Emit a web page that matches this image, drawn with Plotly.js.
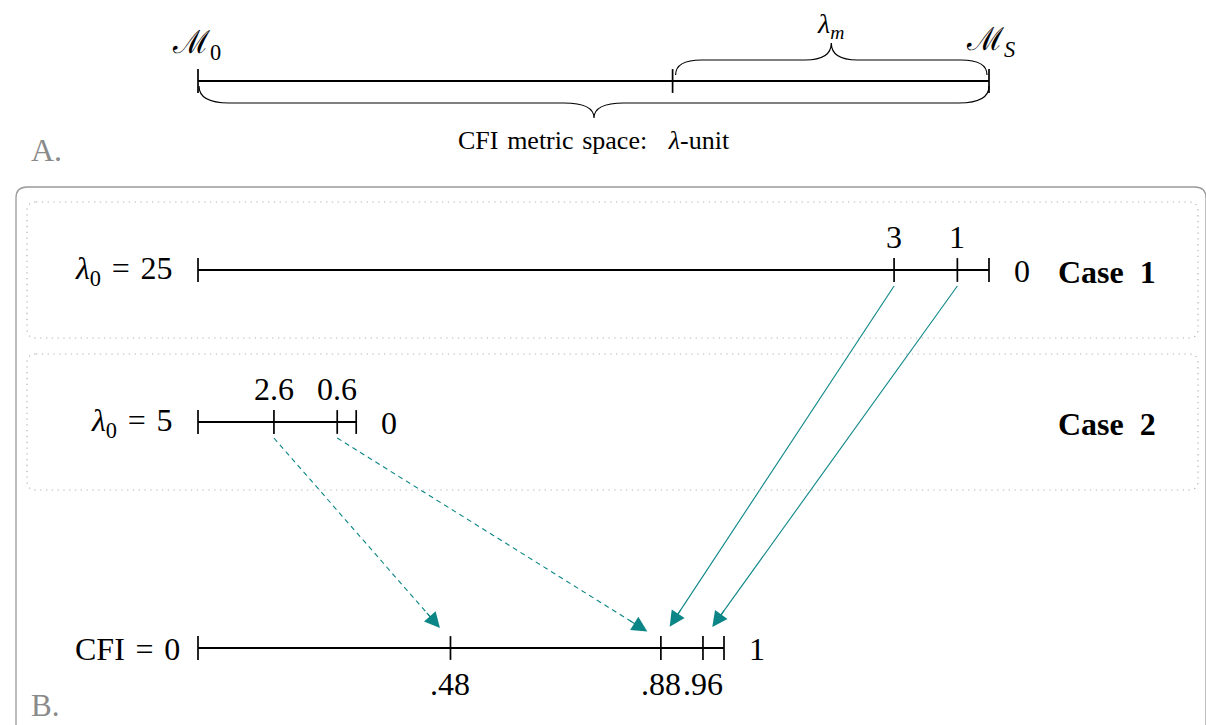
<!DOCTYPE html>
<html>
<head>
<meta charset="utf-8">
<script src="https://cdn.plot.ly/plotly-3.0.1.min.js"></script>
<style>html,body{margin:0;padding:0;background:#fff;}</style>
</head>
<body>
<div id="chart" style="width:1206px;height:725px"></div>
<script>
// ---------------- data ----------------
const lambda0 = [25, 5];                  // λ0 for Case 1, Case 2
const caseNames = ['Case\u20021', 'Case\u20022'];
const case1Lambda = [3, 1];               // λ values marked on Case 1 line
const case1Labels = ['3', '1'];
const case2Lambda = [2.6, 0.6];           // λ values marked on Case 2 line
const case2Labels = ['2.6', '0.6'];
const cfiTicks = [0.48, 0.88, 0.96];      // CFI values marked on the CFI line
const cfiTickLabels = ['.48', '.88', '.96'];
const case1Cfi = [0.88, 0.96];            // CFI that each Case 1 mark maps to
const case2Cfi = [0.48, 0.88];            // CFI that each Case 2 mark maps to
const cfiEnds = [0, 1];
const panelAMarks = [0, 15, 25];          // M0, start of λm, MS on the λ-unit scale

// ---------------- layout constants ----------------
const W = 1206, H = 725;
const X0 = 198;                 // pixel where every scale starts
const LAM_PX = 791 / 25;        // pixels per λ unit
const CFI_PX = 526;             // pixels per CFI unit
const ROW = {A: 81, c1: 270, c2: 422, cfi: 648};
const FONT = 'Liberation Serif, DejaVu Serif, serif';
const TEAL = '#0b8585';
const BIG = 32;
const EQ = '\u2004=\u2004';

const lamPx = u => X0 + u * LAM_PX;
const pxLam = p => (p - X0) / LAM_PX;
const cfiPx = c => X0 + c * CFI_PX;

const traces = [];
const tickMarker = {symbol: 'line-ns', size: 17, color: '#000', line: {color: '#000', width: 1.7}};

function numberLine(xs, y, axis) {
  traces.push({type: 'scatter', mode: 'lines+markers', x: xs, y: xs.map(() => y),
    xaxis: axis, yaxis: 'y', line: {color: '#000', width: 1.9}, marker: tickMarker,
    hoverinfo: 'skip', showlegend: false});
}

// panel A
numberLine(panelAMarks, ROW.A, 'x');
// Case 1 and Case 2 : position = λ0 - λ
numberLine([0].concat(case1Lambda.map(l => lambda0[0] - l), [lambda0[0]]), ROW.c1, 'x');
numberLine([0].concat(case2Lambda.map(l => lambda0[1] - l), [lambda0[1]]), ROW.c2, 'x');
// CFI line
numberLine([cfiEnds[0]].concat(cfiTicks, [cfiEnds[1]]), ROW.cfi, 'x2');

// ---------------- arrows ----------------
const annotations = [];
function arrow(u, rowY, cfi, dashed) {
  const sx = lamPx(u), sy = rowY + 16;
  const tx = cfiPx(cfi), ty = ROW.cfi - 8;
  const len = Math.hypot(tx - sx, ty - sy);
  const dx = (tx - sx) / len, dy = (ty - sy) / len;
  const ex = tx - dx * 12, ey = ty - dy * 12;        // arrow tip
  const s = 1.1 * 2.8;                               // head scale
  const hx = ex - dx * 1.3 * s, hy = ey - dy * 1.3 * s;
  const bx = ex - dx * 10, by = ey - dy * 10;        // end of shaft (under the head)
  traces.push({type: 'scatter', mode: 'lines', x: [u, pxLam(bx)], y: [sy, by],
    xaxis: 'x', yaxis: 'y', line: {color: TEAL, width: 1.1, dash: dashed ? '5px,4px' : 'solid'},
    hoverinfo: 'skip', showlegend: false});
  annotations.push({xref: 'x', yref: 'y', x: pxLam(hx), y: hy, ax: -dx * 22, ay: -dy * 22,
    text: '', showarrow: true, arrowhead: 2, arrowsize: 2.8, arrowwidth: 1.1,
    arrowcolor: TEAL, standoff: 0});
}
case1Lambda.forEach((l, i) => arrow(lambda0[0] - l, ROW.c1, case1Cfi[i], false));
case2Lambda.forEach((l, i) => arrow(lambda0[1] - l, ROW.c2, case2Cfi[i], true));

// ---------------- text ----------------
function txt(o) {
  annotations.push(Object.assign({showarrow: false, yref: 'y',
    font: {family: FONT, size: BIG, color: '#000'}}, o));
}
// panel A
txt({xref: 'x', x: panelAMarks[0], xshift: -2, y: 44, text: 'ℳ<sub>0</sub>', font: {family: FONT, size: 32, color: '#000'}});
txt({xref: 'x', x: panelAMarks[2], xshift: 1, y: 41, text: 'ℳ<sub><i>S</i></sub>', font: {family: FONT, size: 32, color: '#000'}});
txt({xref: 'x', x: (panelAMarks[1] + panelAMarks[2]) / 2, y: 25, text: '<i>λ</i><sub><i>m</i></sub>', font: {family: FONT, size: 28, color: '#000'}});
txt({xref: 'x', x: (panelAMarks[0] + panelAMarks[2]) / 2, y: 140,
  text: 'CFI\u2004metric\u2004space:\u2002\u2004<i>λ</i>-unit', font: {family: FONT, size: 26, color: '#000'}});
txt({xref: 'x3', x: 46, y: 150, text: 'A.', font: {family: FONT, size: BIG, color: '#8a8a8a'}});
txt({xref: 'x3', x: 45, y: 705, text: 'B.', font: {family: FONT, size: 31, color: '#8a8a8a'}});

// cases
[[case1Lambda, case1Labels, ROW.c1], [case2Lambda, case2Labels, ROW.c2]].forEach((c, k) => {
  const [lams, labs, y] = c;
  txt({xref: 'x', x: 0, xanchor: 'right', xshift: -24, y: y, text: '<i>λ</i><sub>0</sub>' + EQ + lambda0[k]});
  txt({xref: 'x', x: lambda0[k], xshift: 33, y: y + 1, text: '0'});
  lams.forEach((l, i) => txt({xref: 'x', x: lambda0[k] - l, y: y - 33, text: labs[i]}));
  txt({xref: 'x3', x: 1107, y: y + 2, text: '<b>' + caseNames[k] + '</b>'});
});

// CFI line
txt({xref: 'x2', x: cfiEnds[0], xanchor: 'right', xshift: -16, y: ROW.cfi + 1, text: 'CFI' + EQ + cfiEnds[0]});
txt({xref: 'x2', x: cfiEnds[1], xshift: 33, y: ROW.cfi + 1, text: String(cfiEnds[1])});
cfiTicks.forEach((c, i) => txt({xref: 'x2', x: c, y: ROW.cfi + 36, text: cfiTickLabels[i]}));

// ---------------- decorations (pixel axis x3) ----------------
function brace(xa, xb, yEnd, yMid, yTip, r) {
  const xt = (xa + xb) / 2;
  return `M${xa},${yEnd} Q${xa},${yMid} ${xa + r},${yMid} L${xt - r},${yMid} ` +
         `Q${xt},${yMid} ${xt},${yTip} Q${xt},${yMid} ${xt + r},${yMid} ` +
         `L${xb - r},${yMid} Q${xb},${yMid} ${xb},${yEnd}`;
}
function rrect(x0, y0, x1, y1, r) {
  return `M${x0 + r},${y0} L${x1 - r},${y0} Q${x1},${y0} ${x1},${y0 + r} L${x1},${y1 - r} ` +
         `Q${x1},${y1} ${x1 - r},${y1} L${x0 + r},${y1} Q${x0},${y1} ${x0},${y1 - r} ` +
         `L${x0},${y0 + r} Q${x0},${y0} ${x0 + r},${y0} Z`;
}
const aL = lamPx(panelAMarks[0]), aM = lamPx(panelAMarks[1]), aR = lamPx(panelAMarks[2]);
const shapes = [
  {type: 'path', xref: 'x3', yref: 'y', path: brace(aL + 1, aR, ROW.A + 5, ROW.A + 22, ROW.A + 37, 30),
   line: {color: '#000', width: 1.2}},
  {type: 'path', xref: 'x3', yref: 'y', path: brace(aM + 3, aR - 2, ROW.A - 6, ROW.A - 21, ROW.A - 38, 26),
   line: {color: '#000', width: 1.2}},
  {type: 'path', xref: 'x3', yref: 'y', path: rrect(16, 187, 1206, 760, 11),
   line: {color: '#9a9a9a', width: 1.3}},
  {type: 'path', xref: 'x3', yref: 'y', path: rrect(27, 202, 1198, 338, 9),
   line: {color: '#b5b5b5', width: 1.2, dash: '1.3px,4.5px'}},
  {type: 'path', xref: 'x3', yref: 'y', path: rrect(27, 354, 1198, 490, 9),
   line: {color: '#b5b5b5', width: 1.2, dash: '1.3px,4.5px'}}
];

const layout = {
  width: W, height: H, autosize: false,
  margin: {l: 0, r: 0, t: 0, b: 0, pad: 0},
  paper_bgcolor: '#fff', plot_bgcolor: '#fff', showlegend: false,
  xaxis: {range: [pxLam(0), pxLam(W)], visible: false, fixedrange: true},
  xaxis2: {range: [-X0 / CFI_PX, (W - X0) / CFI_PX], overlaying: 'x', anchor: 'y', visible: false, fixedrange: true},
  xaxis3: {range: [0, W], overlaying: 'x', anchor: 'y', visible: false, fixedrange: true},
  yaxis: {range: [H, 0], visible: false, fixedrange: true},
  shapes: shapes,
  annotations: annotations
};
Plotly.newPlot('chart', traces, layout, {displayModeBar: false, staticPlot: true});
</script>
</body>
</html>
